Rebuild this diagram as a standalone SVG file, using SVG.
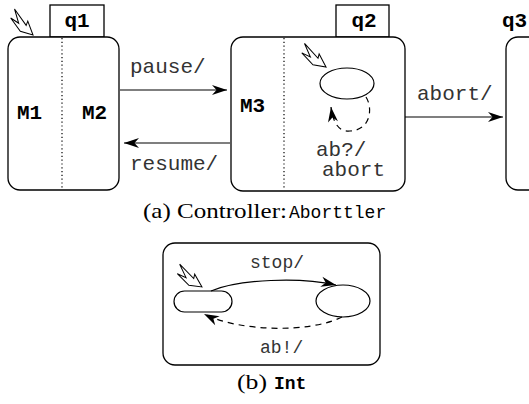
<svg xmlns="http://www.w3.org/2000/svg" width="529" height="404" viewBox="0 0 529 404">
  <style>
    .box { fill: #fff; stroke: #000; stroke-width: 1.3; }
    .tab { fill: #fff; stroke: #000; stroke-width: 1.3; }
    .sep { stroke: #000; stroke-width: 1.2; stroke-dasharray: 1.2 2.6; fill: none; }
    .st  { fill: #fff; stroke: #000; stroke-width: 1.2; }
    .tr  { fill: none; stroke: #000; stroke-width: 1.2; }
    .dash { stroke-dasharray: 6 5; }
    .init { fill: #fff; stroke: #000; stroke-width: 1; stroke-linejoin: miter; }
    .lbl { font-family: "Liberation Mono", "Courier New", monospace; font-size: 21px; fill: #333; }
    .lbs { font-family: "Liberation Mono", "Courier New", monospace; font-size: 18px; fill: #333; }
    .nm  { font-family: "Liberation Mono", "Courier New", monospace; font-size: 21px; font-weight: bold; fill: #000; }
    .cap { font-family: "Liberation Serif", "Times New Roman", serif; font-size: 21px; fill: #000; }
    .capt { font-family: "Liberation Mono", "Courier New", monospace; font-size: 18px; fill: #000; }
  </style>
  <defs>
    <marker id="ah" viewBox="-16 -6 17 12" refX="0" refY="0" markerWidth="17" markerHeight="12" markerUnits="userSpaceOnUse" orient="auto">
      <path d="M0,0 L-15,-5 L-10.5,0 L-15,5 Z" fill="#000"/>
    </marker>
    <!-- hollow zigzag arrow marking an initial state, tip at origin, pointing +x -->
    <path id="initArrow" class="init" d="M0,0 L-13,-7 L-11.5,-2.8 L-31,-7.5 L-18.5,0.5 L-28,1.8 L-12,5.5 Z"/>
  </defs>
  <rect width="529" height="404" fill="#fff"/>

  <!-- (a) Controller -->
  <g id="q1">
    <rect class="tab" x="50" y="5" width="54" height="32"/>
    <text class="nm" x="77" y="27" text-anchor="middle">q1</text>
    <rect class="box" x="8" y="37" width="111" height="153" rx="12"/>
    <line class="sep" x1="62" y1="38" x2="62" y2="189"/>
    <text class="nm" x="17" y="119">M1</text>
    <text class="nm" x="82" y="119">M2</text>
    <use href="#initArrow" transform="translate(33,35) rotate(41)"/>
  </g>

  <g id="q2">
    <rect class="tab" x="336" y="5" width="53" height="32"/>
    <text class="nm" x="364" y="27" text-anchor="middle">q2</text>
    <rect class="box" x="231" y="37" width="174" height="154" rx="12"/>
    <line class="sep" x1="284" y1="38" x2="284" y2="190"/>
    <text class="nm" x="240" y="112">M3</text>
    <ellipse class="st" cx="347" cy="83.5" rx="27" ry="15.5"/>
    <use href="#initArrow" transform="translate(326,67) rotate(34)"/>
  </g>

  <g id="q3">
    <text class="nm" x="502" y="27">q3</text>
    <rect class="box" x="506" y="37" width="60" height="153" rx="12"/>
  </g>

  <g id="connectors-a">
    <line class="tr" x1="120" y1="90" x2="227" y2="90" marker-end="url(#ah)"/>
    <line class="tr" x1="230" y1="143" x2="124" y2="143" marker-end="url(#ah)"/>
    <line class="tr" x1="405" y1="117" x2="503" y2="117" marker-end="url(#ah)"/>
    <path class="tr dash" d="M366,97 C373,108 371,130 350,131 C338,132 333,122 331,107" marker-end="url(#ah)"/>
    <text class="lbl" x="130" y="73">pause/</text>
    <text class="lbl" x="130" y="170">resume/</text>
    <text class="lbl" x="417" y="100">abort/</text>
    <text class="lbl" x="316" y="156">ab?/</text>
    <text class="lbl" x="322" y="176">abort</text>
  </g>

  <text class="cap" x="143" y="218" textLength="144" lengthAdjust="spacingAndGlyphs">(a) Controller:</text>
  <text class="capt" x="289" y="218">Aborttler</text>

  <!-- (b) Int -->
  <g id="int">
    <rect class="box" x="163" y="243" width="217" height="122" rx="12"/>
  </g>
  <g id="idle">
    <rect class="st" x="174" y="291" width="58" height="21" rx="10.5"/>
    <use href="#initArrow" transform="translate(202,287) rotate(32)"/>
  </g>
  <g id="stopped">
    <ellipse class="st" cx="343" cy="301" rx="27" ry="16"/>
  </g>
  <g id="connectors-b">
    <path class="tr" d="M211,291 C240,279 300,277 336,285" marker-end="url(#ah)"/>
    <path class="tr dash" d="M342,317 C310,333 240,332 204,314" marker-end="url(#ah)"/>
    <text class="lbs" x="250" y="268">stop/</text>
    <text class="lbs" x="260" y="353">ab!/</text>
  </g>

  <text class="cap" x="237" y="389" textLength="30" lengthAdjust="spacingAndGlyphs">(b)</text>
  <text class="capt" x="274" y="389" font-weight="bold">Int</text>
</svg>
